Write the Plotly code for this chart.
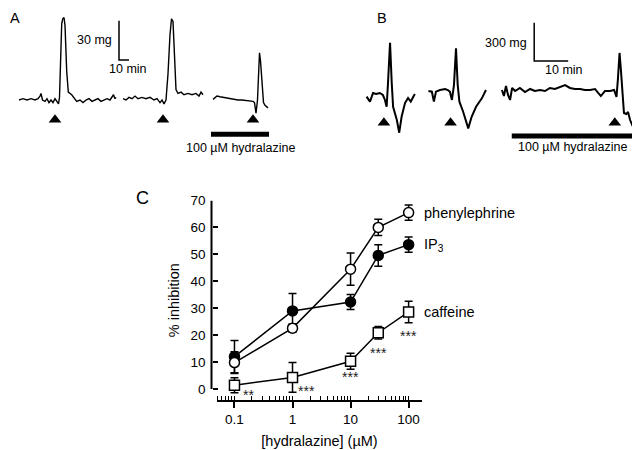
import math
import plotly.graph_objects as go

FONT = "Liberation Sans, Arial, sans-serif"

# ---------------- Panel C data ----------------
conc = [0.1, 1, 10, 30, 100]
phe = [9.8, 22.6, 44.5, 60.0, 65.5]
phe_err = [4.0, 1.5, 6.0, 3.0, 2.8]
ip3 = [12.0, 29.0, 32.3, 49.6, 53.6]
ip3_err = [6.0, 6.5, 2.8, 4.0, 2.8]
caf = [1.4, 4.3, 10.3, 20.9, 28.6]
caf_err = [2.8, 5.5, 3.0, 2.3, 4.0]
caf_sig = ["**", "***", "***", "***", "***"]
y_ticks = [0, 10, 20, 30, 40, 50, 60, 70]
x_ticks = [0.1, 1, 10, 100]
x_ticktext = ["0.1", "1", "10", "100"]

# ---------------- Panel A traces (min, mg) ----------------
a_t1 = [19, 23, 27, 31, 35, 38, 40, 41, 42.5, 45, 47, 49, 51, 53, 55, 57, 58.5, 59.5, 60.5, 61.7,
        62.7, 64, 65, 66.7, 68.3, 71.7, 76.7, 80, 83, 86, 89, 92, 95, 98, 101, 104, 107, 110, 112, 113.5,
        115, 116]
a_f1 = [0, 1, 0, 1, 0, 1, 3, 5, 0, -1, 1, -2, 0, -2, 1, -2, -3, 2, 30, 58,
        62, 63, 57, 22, 6, 4, -1, 0, -2, 0, 1, -1, 0, 1, -1, 0, 1, 0, 2, 4,
        1, 2]
a_t2 = [123, 126, 129, 132, 135, 138, 142, 146, 150, 154, 157, 160, 162, 164, 166, 168, 170, 171.5,
        173, 174.5, 176, 178, 181, 184, 188, 192, 196, 199, 201, 203]
a_f2 = [1, 0, 2, 1, 3, 1, 2, 1, 2, 0, 1, -2, 0, -3, 0, 20, 50, 62,
        60, 35, 8, 5, 6, 4, 5, 4, 5, 3, 6, 4]
a_t3 = [213, 215, 217, 220, 223, 226, 230, 234, 238, 242, 246, 250, 253, 254.5, 256, 257.5, 258.5,
        259.5, 260.5, 262, 263.5, 265, 268]
a_f3 = [0.5, 2, 3, 2.5, 2, 1.5, 1, 0.5, 0, 0, -0.5, -1, -1, -2, -10, 0, 20,
        36, 30, 10, -2, -4, -6]
a_stim = [55, 163, 253]
a_drug = [211, 269]
a_scale_t = [119, 119, 129]
a_scale_f = [60.5, 30.5, 30.5]

# ---------------- Panel B traces (min, mg) ----------------
b_t1 = [13.7, 14.7, 15.6, 16.5, 17.6, 18.5, 19.1, 19.6, 20.0, 20.6, 21.1, 21.5, 22.6, 23.3, 24.0,
        25.0, 25.9, 26.7, 27.4, 27.9]
b_f1 = [-13, -52, 16, 8, 16, 0, -39, -92, 94, 409, 94, -92, -196, -295, -170,
        -63, -23, -52, -16, 8]
b_t2 = [31.9, 32.9, 33.5, 34.1, 35.3, 36.8, 37.6, 38.2, 38.8, 39.4, 40.0, 40.5, 41.0, 42.1, 43.6,
        44.6, 45.9, 47.6, 48.8]
b_f2 = [31, 26, -52, 26, 39, 47, 39, 26, -39, 78, 365, 78, -52, -131, -261,
        -170, -92, -26, 39]
b_t3 = [53.5, 54.1, 54.7, 55.3, 55.9, 56.5, 57.4, 58.8, 60.3, 61.8, 63.2, 64.7, 66.2, 67.6,
        69.1, 70.6, 72.1, 73.5, 75.0, 76.5, 77.9, 79.4, 80.9, 81.8, 82.6, 83.8, 85.3, 86.5,
        87.2, 87.6, 88.1, 88.5, 89.0, 89.4, 90.1, 90.6, 91.2, 92.2]
b_f3 = [39, -8, 70, 0, -39, 55, 31, 55, 23, 47, 31, 39, 31, 55,
        47, 63, 78, 55, 47, 47, 39, 39, 47, 16, -8, 31, 31, 39,
        -16, 117, 329, 196, -39, -141, -149, -133, -196, -258]
b_stim = [18.8, 38.4, 86.7]
b_drug = [56.4, 93.1]
b_scale_t = [63.0, 63.0, 73.0]
b_scale_f = [566, 266, 266]

# page body adds an 8 px margin; the figure is sized to fill the rest of the window
OFF = 8
W, H = 640 - OFF, 450 - OFF


def px_x(px):
    return (px - OFF) / W


def px_y(py):
    return 1 - (py - OFF) / H


fig = go.Figure()

# ---- Panel A ----
for t, f in [(a_t1, a_f1), (a_t2, a_f2), (a_t3, a_f3)]:
    fig.add_trace(go.Scatter(x=t, y=f, mode="lines", line=dict(color="black", width=1.4),
                             xaxis="x2", yaxis="y2", hoverinfo="skip"))
fig.add_trace(go.Scatter(x=a_stim, y=[-15] * len(a_stim), mode="markers",
                         marker=dict(symbol="triangle-up", size=11, color="black"),
                         xaxis="x2", yaxis="y2"))
fig.add_trace(go.Scatter(x=a_drug, y=[-26.2, -26.2], mode="lines", line=dict(color="black", width=5),
                         xaxis="x2", yaxis="y2"))
fig.add_trace(go.Scatter(x=a_scale_t, y=a_scale_f, mode="lines", line=dict(color="black", width=1.5),
                         xaxis="x2", yaxis="y2"))

# ---- Panel B ----
for t, f in [(b_t1, b_f1), (b_t2, b_f2), (b_t3, b_f3)]:
    fig.add_trace(go.Scatter(x=t, y=f, mode="lines", line=dict(color="black", width=2),
                             xaxis="x3", yaxis="y3", hoverinfo="skip"))
fig.add_trace(go.Scatter(x=b_stim, y=[-217] * len(b_stim), mode="markers",
                         marker=dict(symbol="triangle-up", size=11, color="black"),
                         xaxis="x3", yaxis="y3"))
fig.add_trace(go.Scatter(x=b_drug, y=[-321, -321], mode="lines", line=dict(color="black", width=5),
                         xaxis="x3", yaxis="y3"))
fig.add_trace(go.Scatter(x=b_scale_t, y=b_scale_f, mode="lines", line=dict(color="black", width=1.5),
                         xaxis="x3", yaxis="y3"))

# ---- Panel C ----
def series(y, err, symbol, fill):
    return go.Scatter(
        x=conc, y=y, mode="lines+markers",
        line=dict(color="black", width=1.5),
        marker=dict(symbol=symbol, size=10, color=fill, line=dict(color="black", width=1.5)),
        error_y=dict(type="data", array=err, color="black", thickness=1.5, width=4),
        cliponaxis=False,
    )

fig.add_trace(series(caf, caf_err, "square", "white"))
fig.add_trace(series(ip3, ip3_err, "circle", "black"))
fig.add_trace(series(phe, phe_err, "circle", "white"))

y0_px, y70_px = 389.0, 200.5
ppu = (y0_px - y70_px) / 70.0
ymin = -4.0
ybot_px = y0_px - ymin * ppu
x_left_px, x_right_px = 217.0, 422.0
yaxis_x_px = 211.5

annotations = []
sig_shift = [(14, -10), (14, -14), (0, -16), (0, -20), (0, -24)]
for xv, yv, s, (dx, dy) in zip(conc, caf, caf_sig, sig_shift):
    annotations.append(dict(x=math.log10(xv), y=yv, xref="x", yref="y", text=s, showarrow=False,
                            xshift=dx, yshift=dy, font=dict(family=FONT, size=14, color="#222222")))
for label, yv in [("phenylephrine", phe[-1]), ("IP<sub>3</sub>", ip3[-1]), ("caffeine", caf[-1])]:
    annotations.append(dict(x=math.log10(conc[-1]), y=yv, xref="x", yref="y", text=label,
                            showarrow=False, xanchor="left", xshift=13,
                            font=dict(family=FONT, size=14.5, color="black")))

txt = dict(showarrow=False, font=dict(family=FONT, size=12.5, color="black"))
annotations += [
    dict(x=240, y=-36.5, xref="x2", yref="y2", text="100 µM hydralazine", **txt),
    dict(x=113.5, y=45.8, xref="x2", yref="y2", text="30 mg", xanchor="right", **txt),
    dict(x=128, y=23.4, xref="x2", yref="y2", text="10 min", **txt),
    dict(x=74.4, y=-405, xref="x3", yref="y3", text="100 µM hydralazine", **txt),
    dict(x=61.6, y=404, xref="x3", yref="y3", text="300 mg", xanchor="right", **txt),
    dict(x=71.8, y=196, xref="x3", yref="y3", text="10 min", **txt),
]
for letter, px, py, sz in [("A", 15, 17.5, 14.5), ("B", 382, 17.5, 14.5), ("C", 142, 198, 18)]:
    annotations.append(dict(x=px_x(px), y=px_y(py), xref="paper", yref="paper", text=letter,
                            xanchor="center", yanchor="middle", borderpad=0,
                            showarrow=False, font=dict(family=FONT, size=sz, color="black")))

a_ppm = 1.31
b_ppm = 0.1278
hidden = dict(visible=False, automargin=False, showgrid=False, zeroline=False)
fig.update_layout(
    template="none",
    width=W, height=H,
    margin=dict(l=0, r=0, t=0, b=0, pad=0, autoexpand=False),
    paper_bgcolor="white", plot_bgcolor="rgba(0,0,0,0)",
    showlegend=False,
    font=dict(family=FONT, color="black"),
    xaxis=dict(
        type="log", domain=[px_x(x_left_px), px_x(x_right_px)],
        range=[math.log10(0.05), math.log10(170)],
        anchor="y", automargin=False,
        tickvals=x_ticks, ticktext=x_ticktext,
        ticks="outside", ticklen=6, tickwidth=1.5, tickcolor="black",
        showline=True, linewidth=2, linecolor="black",
        showgrid=False, zeroline=False,
        minor=dict(ticks="inside", ticklen=4, tickwidth=1, tickcolor="black", dtick="D1", showgrid=False),
        tickfont=dict(family=FONT, size=13.5, color="black"),
        title=dict(text="[hydralazine] (µM)", font=dict(family=FONT, size=14.5, color="black"), standoff=10),
    ),
    yaxis=dict(
        domain=[px_y(ybot_px), px_y(y70_px)],
        range=[ymin, 70],
        anchor="free", position=px_x(yaxis_x_px), automargin=False,
        tickvals=y_ticks,
        ticks="inside", ticklen=5, tickwidth=1.5, tickcolor="black",
        showline=False, showgrid=False, zeroline=False,
        ticklabelstandoff=6,
        tickfont=dict(family=FONT, size=13.5, color="black"),
        title=dict(text="% inhibition", font=dict(family=FONT, size=14.5, color="black"), standoff=6),
    ),
    xaxis2=dict(domain=[0, px_x(320)], range=[OFF, 320], anchor="y2", **hidden),
    yaxis2=dict(domain=[px_y(160), 1], range=[(100 - 160) / a_ppm, (100 - OFF) / a_ppm], anchor="x2", **hidden),
    xaxis3=dict(domain=[px_x(320), 1], range=[0, 320 / 3.4], anchor="y3", **hidden),
    yaxis3=dict(domain=[px_y(160), 1], range=[(95 - 160) / b_ppm, (95 - OFF) / b_ppm], anchor="x3", **hidden),
    annotations=annotations,
    shapes=[dict(type="line", xref="paper", yref="y", x0=px_x(yaxis_x_px), x1=px_x(yaxis_x_px),
                 y0=0, y1=70, line=dict(color="black", width=2))],
)

fig.write_html("out.html")
